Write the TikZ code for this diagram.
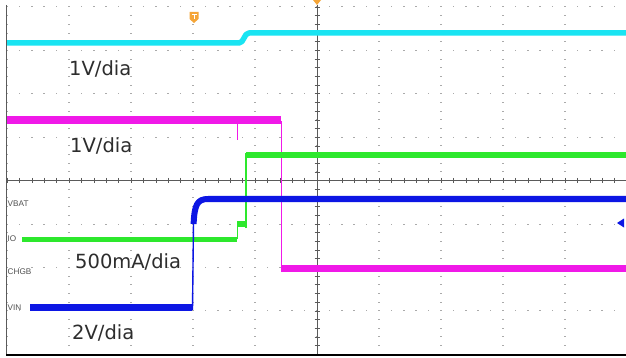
\documentclass[tikz,border=0pt]{standalone}
\usepackage{fontspec}
\setmainfont{DejaVu Sans}
\newfontfamily\chfont{Liberation Sans}
\definecolor{cyanT}{RGB}{25,228,242}
\definecolor{magT}{RGB}{240,25,232}
\definecolor{grnT}{RGB}{45,232,45}
\definecolor{bluT}{RGB}{12,22,228}
\definecolor{orgT}{RGB}{245,165,55}
\definecolor{gridC}{RGB}{170,170,170}
\definecolor{axisC}{RGB}{90,90,90}
\definecolor{txtC}{RGB}{45,45,45}
\definecolor{chC}{RGB}{80,80,80}
\begin{document}
\begin{tikzpicture}[x=1pt,y=-1pt,
  big/.style={font=\fontsize{19.5}{22}\selectfont, text=txtC, anchor=west, inner sep=0pt},
  chlab/.style={font=\chfont\fontsize{8.2}{9}\selectfont, text=chC, anchor=west, inner sep=0pt},
  thick trace/.style={line width=#1, line cap=butt, line join=round},
  edge/.style={line width=1.4pt}
]
\useasboundingbox (0,0) rectangle (626,358);
\fill[white] (0,0) rectangle (626,358);
% grid dots
\foreach \i in {0,...,10}{
  \foreach \j in {0,...,40}{
    \fill[gridC] ({7+62*\i-0.6},{7+8.68*\j-0.5}) rectangle ++(1.2,1);
  }
}
\foreach \j in {0,...,8}{
  \foreach \i in {0,...,50}{
    \fill[gridC] ({7+12.4*\i-0.8},{7+43.4*\j-0.5}) rectangle ++(1.6,1);
  }
}
% center axes with ticks
\draw[axisC, line width=0.8pt] (317,5) -- (317,354);
\foreach \j in {0,...,40}{
  \draw[axisC, line width=0.6pt] (314.5,{7+8.68*\j}) -- (319.5,{7+8.68*\j});
}
\draw[axisC, line width=0.8pt] (7,180.6) -- (626,180.6);
\foreach \i in {0,...,50}{
  \draw[axisC, line width=0.6pt] ({7+12.4*\i},178) -- ({7+12.4*\i},183.2);
}
% borders
\draw[axisC, line width=0.8pt] (6.5,5) -- (6.5,355);
\draw[black, line width=1.6pt] (6,354.8) -- (626,354.8);
% cyan trace
\draw[cyanT, thick trace=5.5pt] (7,43) -- (239,43) .. controls (244,43) and (244,33) .. (249,33) -- (626,33);
% magenta trace
\draw[magT, thick trace=7.5pt] (7,120) -- (281,120);
\draw[magT, edge] (237.5,121) -- (237.5,140);
\draw[magT, edge] (281.5,121) -- (281.5,268);
\draw[magT, thick trace=7pt] (281,268) -- (626,268);
% green trace
\draw[grnT, thick trace=5pt] (22,239) -- (237,239);
\draw[grnT, edge] (237.5,239) -- (237.5,221);
\draw[grnT, thick trace=6pt] (237,224) -- (245,224);
\draw[grnT, edge] (246,228) -- (246,153);
\draw[grnT, thick trace=5.5pt] (246,155) -- (626,155);
% blue trace
\draw[bluT, thick trace=7pt] (30,307) -- (192,307);
\draw[bluT, edge] (192.5,310) -- (193.5,222);
\draw[bluT, thick trace=6pt] (193.6,224) .. controls (194.5,205) and (197,199) .. (208,199) -- (626,199);
\fill[bluT] (617,223) -- (624,218.5) -- (624,227.5) -- cycle;
% orange markers
\fill[orgT] (189.5,12) -- (198.5,12) -- (198.5,19) -- (194,23) -- (189.5,19) -- cycle;
\draw[white, line width=0.8pt] (191.5,14.5) -- (196.5,14.5) (194,14.5) -- (194,19.5);
\fill[orgT] (313,0) -- (321,0) -- (317,5) -- cycle;
% channel labels
\node[chlab] (vbat) at (7.5,204) {VBAT};
\node[chlab] (io) at (7.5,239) {IO};
\node[chlab] (chgb) at (7.5,272) {CHGB};
\node[chlab] (vin) at (7.5,307.5) {VIN};
% scale labels
\node[big] (s1) at (69,69) {1V/dia};
\node[big] (s2) at (70,146) {1V/dia};
\node[big] (s3) at (75,262) {500mA/dia};
\node[big] (s4) at (72,333) {2V/dia};
\end{tikzpicture}
\end{document}
